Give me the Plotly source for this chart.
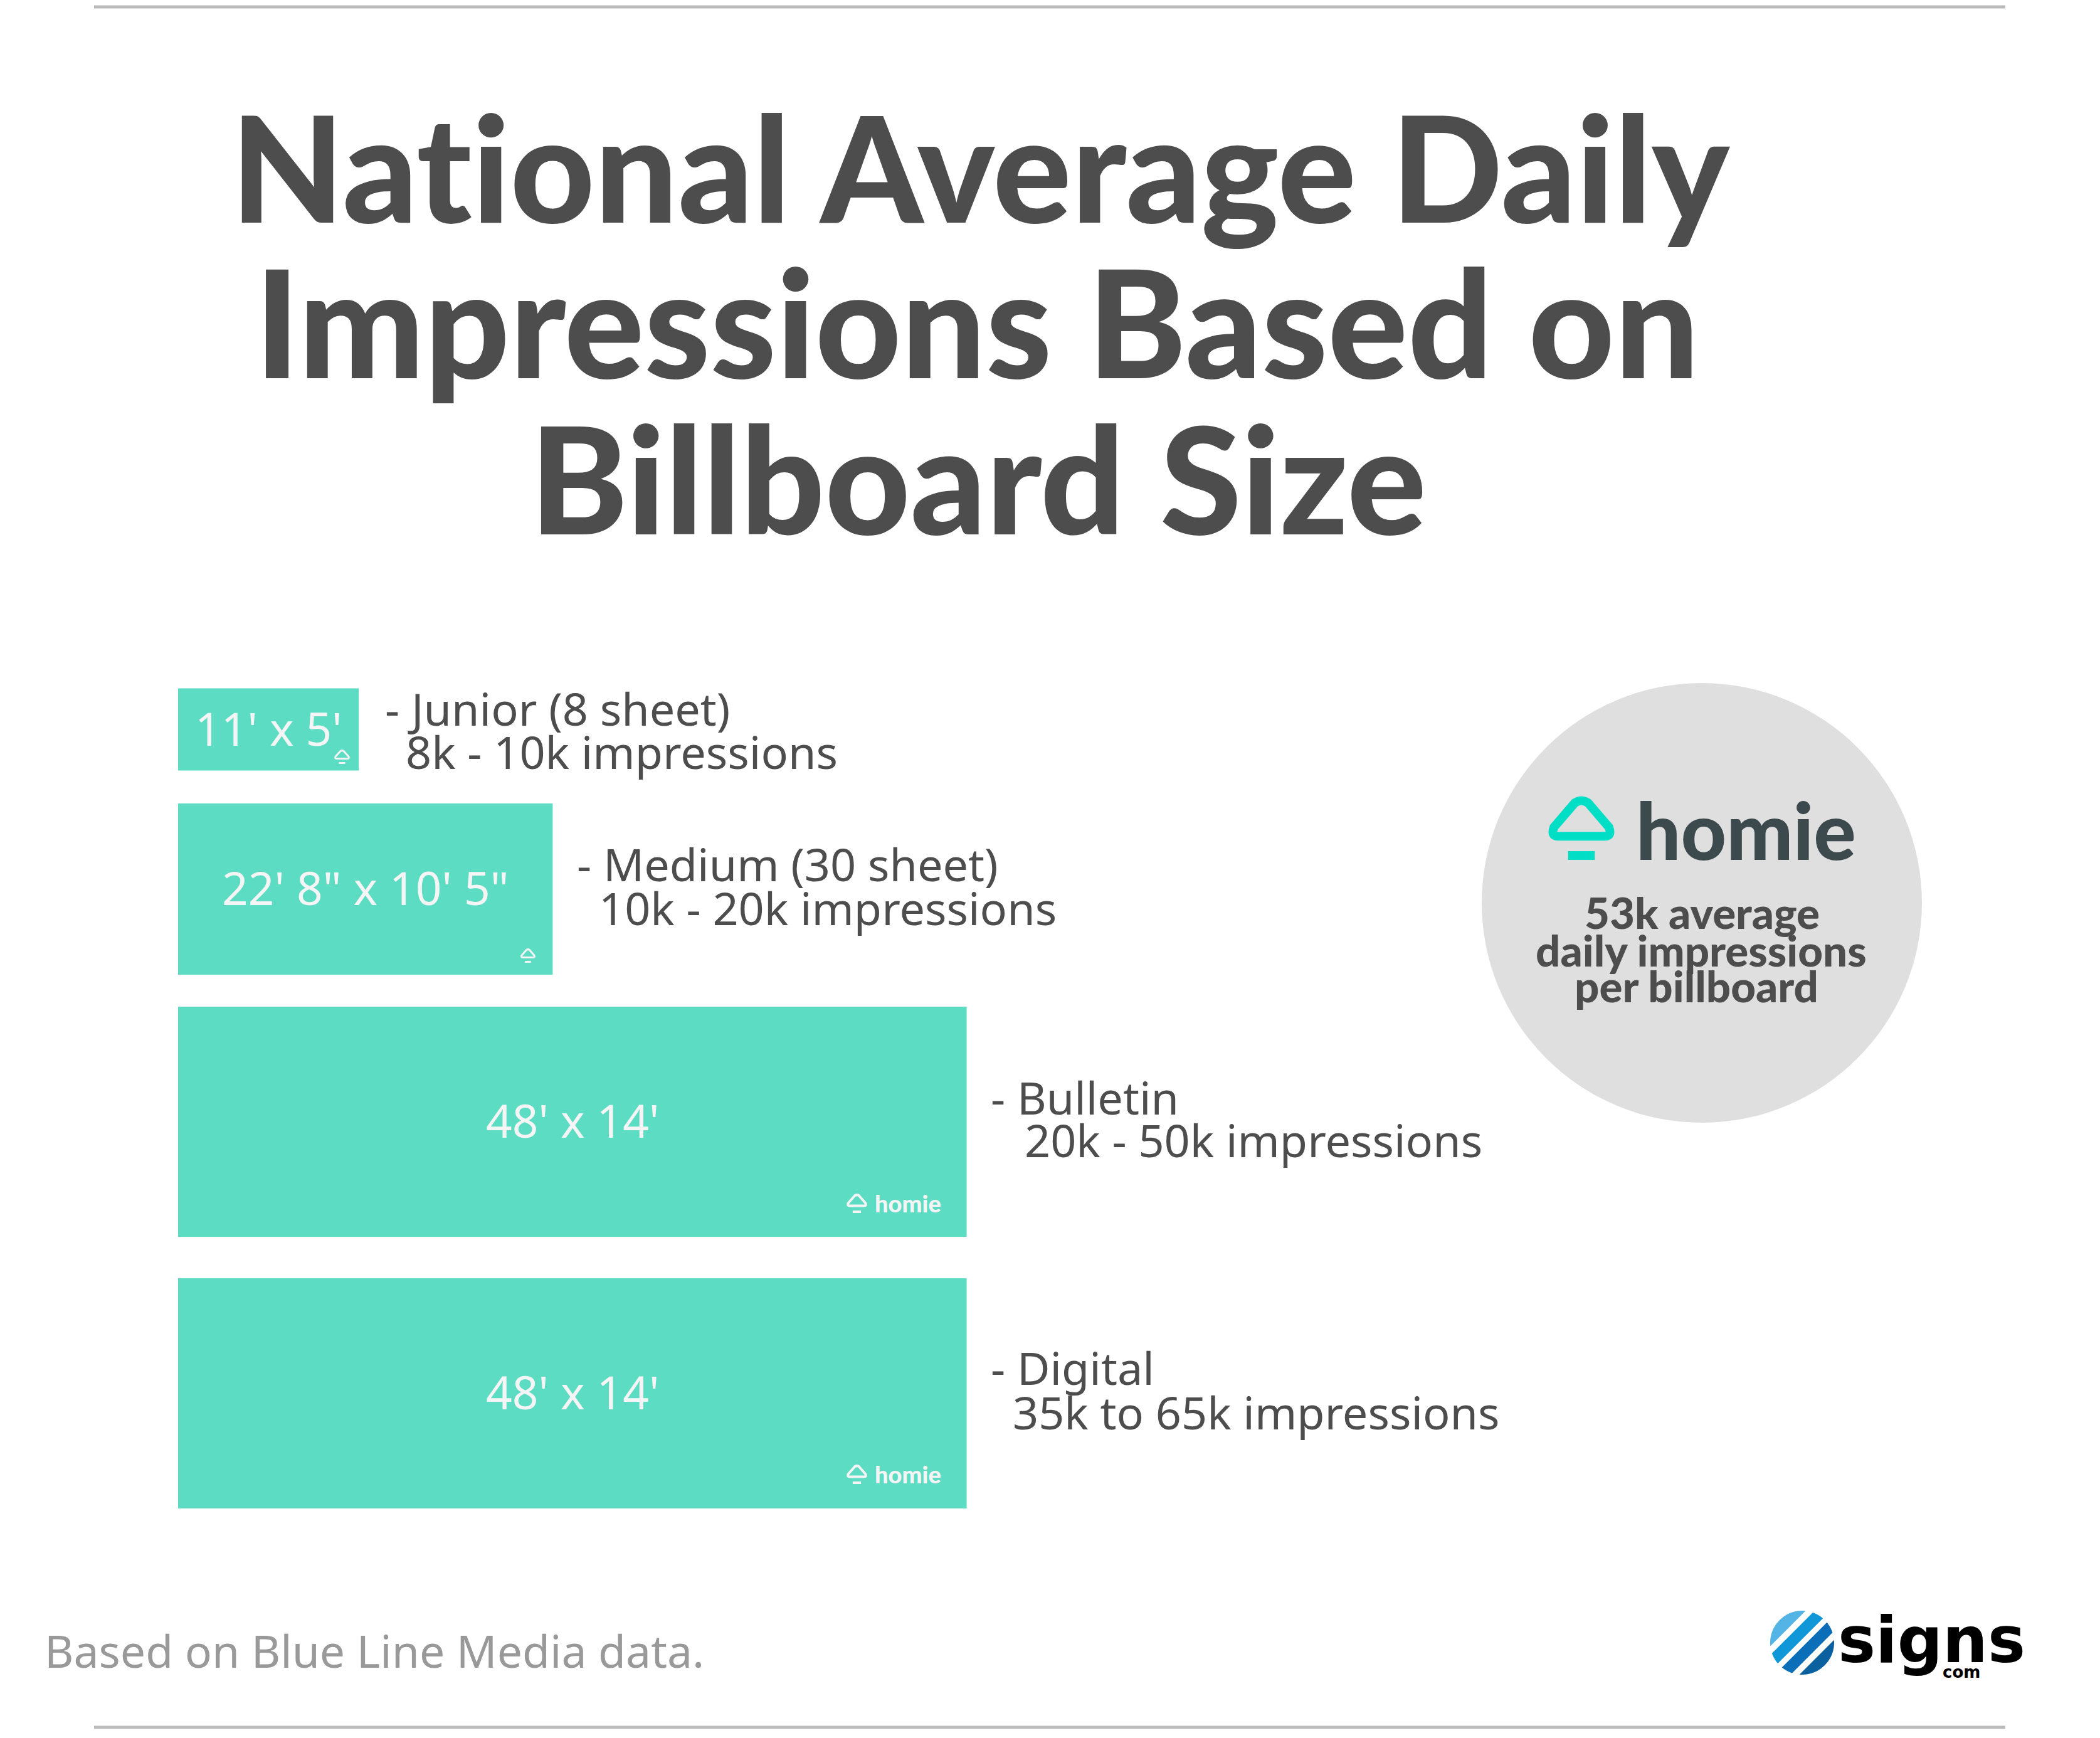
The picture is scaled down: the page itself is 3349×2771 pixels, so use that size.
import numpy as np
import plotly.graph_objects as go

W, H = 3349, 2771
PX_PER_FT = 26.2

# billboard faces in feet, top to bottom
size_labels = ["11' x 5'", "22' 8\" x 10' 5\"", "48' x 14'", "48' x 14'"]
width_ft = [11, 22.8, 48, 48]
height_ft = [5, 10.42, 14, 14]
names = ["- Junior (8 sheet)", "- Medium (30 sheet)", "- Bulletin", "- Digital"]
impressions = ["8k - 10k impressions", "10k - 20k impressions", "20k - 50k impressions", "35k to 65k impressions"]

title_lines = ["National Average Daily", "Impressions Based on", "Billboard Size"]
circle_lines = ["53k average", "daily impressions", "per billboard"]
footer = "Based on Blue Line Media data."

# page layout (pixels)
row_center_px = [1163, 1417.5, 1788.5, 2221.5]
name_pos = [(613, 1129), (919, 1377), (1579, 1749), (1579, 2180)]
imp_pos = [(646, 1198), (954, 1447), (1633, 1817), (1614, 2251)]

TEAL = "#5bdcc3"
GREY = "#4d4d4d"
FONT = "Noto Sans"
HEAD = "Lato"


def px(x):
    return x / W


def py(y):
    return 1 - y / H


def poly(pts):
    return "M " + " L ".join(f"{px(x):.5f},{py(y):.5f}" for x, y in pts) + " Z"


def add_text(fig, x, y, text, size, color=GREY, anchor="left", weight=400, font=FONT):
    fig.add_annotation(x=px(x), y=py(y), xref="paper", yref="paper", text=text, showarrow=False,
                       xanchor=anchor, yanchor="middle", borderpad=0,
                       font=dict(family=font, size=size, color=color, weight=weight))


def add_icon(fig, x0, y0, x1, y1, color, lw):
    # little house mark: rounded triangle with a dash under it
    w, h = x1 - x0, y1 - y0
    mx = (x0 + x1) / 2
    top = y0 + lw / 2
    base = y0 + h * 0.63
    left, right = x0 + lw / 2, x1 - lw / 2
    d = (f"M {px(mx - w * 0.1):.5f},{py(top + h * 0.04):.5f} "
         f"Q {px(mx):.5f},{py(top - h * 0.03):.5f} {px(mx + w * 0.1):.5f},{py(top + h * 0.04):.5f} "
         f"L {px(right - w * 0.02):.5f},{py(base - h * 0.14):.5f} "
         f"Q {px(right + w * 0.03):.5f},{py(base):.5f} {px(right - w * 0.08):.5f},{py(base):.5f} "
         f"L {px(left + w * 0.08):.5f},{py(base):.5f} "
         f"Q {px(left - w * 0.03):.5f},{py(base):.5f} {px(left + w * 0.02):.5f},{py(base - h * 0.14):.5f} Z")
    fig.add_shape(type="path", xref="paper", yref="paper", path=d, line=dict(color=color, width=lw))
    fig.add_shape(type="line", xref="paper", yref="paper", x0=px(mx - w * 0.2), x1=px(mx + w * 0.2),
                  y0=py(y1 - lw / 2), y1=py(y1 - lw / 2), line=dict(color=color, width=lw))


def band(cx, cy, r, u0, u1):
    # slice of a circle between two diagonal cuts
    us = np.linspace(u0, u1, 30)
    s = np.sqrt(np.clip(r ** 2 - us ** 2, 0, None))
    dx, dy = 0.7071, 0.7071
    nx, ny = 0.7071, -0.7071
    pts = [(cx + u * dx + v * nx, cy + u * dy + v * ny) for u, v in zip(us, s)]
    pts += [(cx + u * dx - v * nx, cy + u * dy - v * ny) for u, v in zip(us[::-1], s[::-1])]
    return poly(pts)


fig = go.Figure()
fig.add_trace(go.Bar(
    orientation="h",
    x=width_ft,
    y=[c / PX_PER_FT for c in row_center_px],
    width=height_ft,
    marker=dict(color=TEAL, line=dict(width=0)),
    hoverinfo="skip",
))

# size label on each board, nudged a bit above the middle
for label, w, c in zip(size_labels, width_ft, row_center_px):
    fig.add_annotation(x=w / 2, y=c / PX_PER_FT, xref="x", yref="y", text=label, showarrow=False,
                       yshift=3, font=dict(family=FONT, size=73, color="#f5f5f5"))

# rules top and bottom
for y in [11, 2754]:
    fig.add_shape(type="line", xref="paper", yref="paper", x0=px(150), x1=px(3198), y0=py(y), y1=py(y),
                  line=dict(color="#bbbbbb", width=5))

# grey circle
fig.add_shape(type="circle", xref="paper", yref="paper", x0=px(2363), x1=px(3065), y0=py(1089), y1=py(1790),
              fillcolor="#dfdfdf", line=dict(width=0), layer="below")

for line, x, y, size in zip(title_lines, [1564, 1558, 1560], [264, 511, 760], [234, 238, 236]):
    add_text(fig, x, y, line, size, anchor="center", weight=900, font=HEAD)

for name, imp, np_, ip in zip(names, impressions, name_pos, imp_pos):
    add_text(fig, np_[0], np_[1], name, 72)
    add_text(fig, ip[0], ip[1], imp, 72)

# big homie mark in the circle
add_icon(fig, 2469, 1269, 2575, 1371, "#00dec5", 14)
add_text(fig, 2608, 1322, "homie", 126, color="#3c4a4d", weight=900, font=HEAD)
for line, x, y in zip(circle_lines, [2714, 2713, 2705], [1454, 1514, 1571]):
    add_text(fig, x, y, line, 69, anchor="center", weight=900, font=HEAD)

# small marks on the boards
add_icon(fig, 533, 1195, 558, 1218, "#f5f5f5", 3)
add_icon(fig, 830, 1512, 854, 1535, "#f5f5f5", 3)
for dy in [0, 432]:
    add_icon(fig, 1350, 1903 + dy, 1383, 1934 + dy, "#f5f5f5", 4)
    add_text(fig, 1394, 1918 + dy, "homie", 38, color="#f5f5f5", weight=900, font=HEAD)

add_text(fig, 70, 2631, footer, 71.5, color="#999999")

# signs.com logo
for (u0, u1), c in zip([(-51, -32), (-22, -4), (5, 23), (33, 51)], ["#55b4e6", "#0f97d8", "#0a6eb8", "#0b609f"]):
    fig.add_shape(type="path", xref="paper", yref="paper", path=band(2874, 2619, 51, u0, u1),
                  fillcolor=c, line=dict(width=0))
add_text(fig, 2930, 2615, "signs", 101, color="#000000", weight=700, font="DejaVu Sans")
add_text(fig, 3097, 2666, "com", 26, color="#000000", weight=700, font="DejaVu Sans")

fig.update_xaxes(visible=False, range=[-284 / PX_PER_FT, (W - 284) / PX_PER_FT])
fig.update_yaxes(visible=False, range=[H / PX_PER_FT, 0])
fig.update_layout(width=W, height=H, margin=dict(l=0, r=0, t=0, b=0), showlegend=False,
                  paper_bgcolor="white", plot_bgcolor="rgba(0,0,0,0)")
# Lato would otherwise join the "ti" in National
no_liga = ("var s=document.createElement('style');"
           "s.textContent='svg text{font-variant-ligatures:none!important;font-feature-settings:\"liga\" 0,\"clig\" 0!important;}';"
           "document.head.appendChild(s);document.body.style.margin='0';")
fig.write_html("out.html", config={"displayModeBar": False}, post_script=no_liga)
